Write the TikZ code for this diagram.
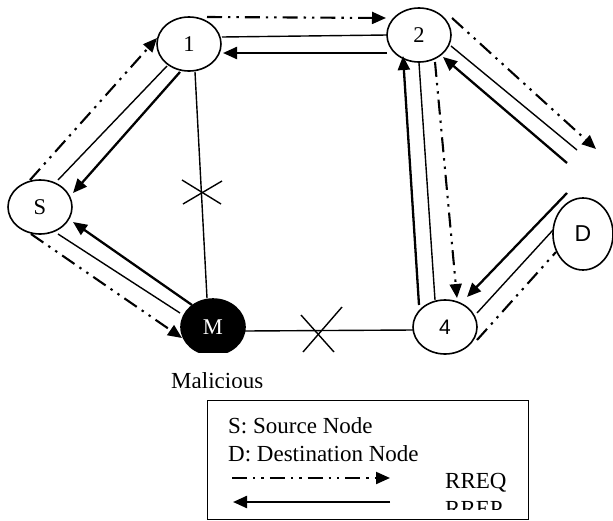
\documentclass[tikz,border=0pt]{standalone}
\usepackage{fontspec}
\setmainfont{Liberation Serif}
\newfontfamily\sansf{Liberation Sans}
\usetikzlibrary{arrows.meta,shapes.geometric}
\tikzset{
  nodeell/.style={draw=black,line width=1.6pt,ellipse,inner sep=0pt,minimum width=64pt,minimum height=54pt,font=\fontsize{22.5}{26}\selectfont},
  link/.style={draw=black,line width=1.4pt},
  rrep/.style={draw=black,line width=2.3pt,-{Triangle[length=14pt,width=12pt]}},
  rreq/.style={draw=black,line width=2.1pt,dash pattern=on 15pt off 6pt on 2.4pt off 6pt on 2.4pt off 6pt},
  rreqa/.style={rreq,-{Triangle[length=14pt,width=12pt]}},
  legtext/.style={anchor=base west,inner sep=0pt,font=\fontsize{23}{26}\selectfont},
}
\begin{document}
\begin{tikzpicture}[x=1pt,y=-1pt]
\useasboundingbox (0,0) rectangle (613,520);
% nodes
\node[nodeell] (S) at (40,207) {S};
\node[nodeell] (n1) at (189,44) {1};
\node[nodeell] (n2) at (419,35) {2};
\node[nodeell,minimum width=60pt,minimum height=72pt,font=\sansf\fontsize{23}{26}\selectfont] (D) at (583,234) {D};
\node[nodeell,font=\sansf\fontsize{21}{24}\selectfont] (n4) at (445,327) {4};
\begin{scope}
\clip (0,0) rectangle (613,352);
\node[nodeell,fill=black,text=white,minimum height=56pt] (M) at (213,327) {M};
\end{scope}
\begin{scope}
\clip (0,0) rectangle (613,387);
\node[legtext] (mal) at (171,388) {Malicious};
\end{scope}
% coordinates
\coordinate (a1) at (30,180); \coordinate (a2) at (157,38);
\coordinate (b1) at (58,180); \coordinate (b2) at (167,66);
\coordinate (c1) at (180,72); \coordinate (c2) at (73,193);
\coordinate (d1) at (207,17); \coordinate (d2) at (386,18);
\coordinate (e1) at (222,37); \coordinate (e2) at (387,35);
\coordinate (f1) at (387,53); \coordinate (f2) at (223,53);
\coordinate (g1) at (452,18); \coordinate (g2) at (596,149);
\coordinate (h1) at (451,46); \coordinate (h2) at (577,150);
\coordinate (i1) at (567,163); \coordinate (i2) at (443,57);
\coordinate (j1) at (419,305); \coordinate (j2) at (403,56);
\coordinate (k1) at (419,63); \coordinate (k2) at (435,300);
\coordinate (l1) at (435,62); \coordinate (l2) at (457,298);
\coordinate (m1) at (567,193); \coordinate (m2) at (467,297);
\coordinate (o1) at (553,230); \coordinate (o2) at (477,313);
\coordinate (p1) at (477,340); \coordinate (p2) at (556,252);
\coordinate (q1) at (192,305); \coordinate (q2) at (73,222);
\coordinate (r1) at (58,234); \coordinate (r2) at (180,313);
\coordinate (s1) at (31,234); \coordinate (s2) at (182,338);
\coordinate (t1) at (195,72); \coordinate (t2) at (207,298);
\coordinate (u1) at (245,331); \coordinate (u2) at (413,330);
% S - 1
\draw[rreqa] (a1) -- (a2);
\draw[link] (b1) -- (b2);
\draw[rrep] (c1) -- (c2);
% 1 - 2
\draw[rreqa] (d1) -- (d2);
\draw[link] (e1) -- (e2);
\draw[rrep] (f1) -- (f2);
% 2 - D
\draw[rreqa] (g1) -- (g2);
\draw[link] (h1) -- (h2);
\draw[rrep] (i1) -- (i2);
% 2 - 4
\draw[rrep] (j1) -- (j2);
\draw[link] (k1) -- (k2);
\draw[rreqa] (l1) -- (l2);
% D - 4
\draw[rrep] (m1) -- (m2);
\draw[link] (o1) -- (o2);
\draw[rreq] (p1) -- (p2);
% S - M
\draw[rrep] (q1) -- (q2);
\draw[link] (r1) -- (r2);
\draw[rreqa] (s1) -- (s2);
% broken links
\draw[link] (t1) -- (t2);
\draw[link] (182,180) -- (221,204);
\draw[link] (183,204) -- (222,181);
\draw[link] (u1) -- (u2);
\draw[link] (301,315) -- (334,352);
\draw[link] (342,307) -- (303,352);
% legend
\node[draw=black,line width=1.4pt,minimum width=321pt,minimum height=119pt,inner sep=0pt,anchor=north west] (leg) at (207,400) {};
\node[legtext] (ls) at (228,433) {S: Source Node};
\node[legtext] (ld) at (228,461) {D: Destination Node};
\coordinate (la1) at (232,478); \coordinate (la2) at (390,478);
\coordinate (lb1) at (390,502); \coordinate (lb2) at (233,502);
\draw[rreqa] (la1) -- (la2);
\draw[rrep] (lb1) -- (lb2);
\node[legtext] (lq) at (445,488) {RREQ};
\begin{scope}
\clip (0,0) rectangle (613,509);
\node[legtext] (lp) at (445,516) {RREP};
\end{scope}
\end{tikzpicture}
\end{document}
